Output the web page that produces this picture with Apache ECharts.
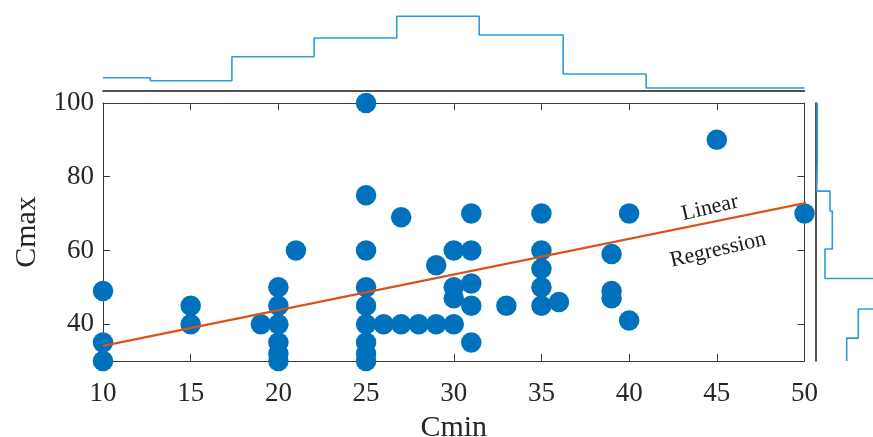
<!DOCTYPE html>
<html>
<head>
<meta charset="utf-8">
<script src="https://cdn.jsdelivr.net/npm/echarts@6/dist/echarts.min.js"></script>
<style>html,body{margin:0;padding:0;background:#fff}#c{width:873px;height:437px}</style>
</head>
<body>
<div id="c"></div>
<script>
// ---- data ----
const cmin = [10,10,10,15,15,19,20,20,20,20,20,20,21,25,25,25,25,25,25,25,25,25,26,27,27,28,29,29,30,30,30,30,31,31,31,31,31,33,35,35,35,35,35,36,39,39,39,40,40,45,50];
const cmax = [49,35,30,45,40,40,50,45,40,35,32,30,60,100,75,60,50,45,40,35,32,30,40,69,40,40,56,40,60,50,47,40,70,60,51,45,35,45,70,60,55,50,45,46,59,49,47,70,41,90,70];
const xTicks = [10,15,20,25,30,35,40,45,50];
const yTicks = [40,60,80,100];
const regressionLine = [[10,34.1],[51.4,74.2]];
// top marginal histogram (Cmin bins)
const topEdges = [10,12.7,17.35,22.04,26.75,31.45,36.24,40.97,50];
const topHeights = [13.0,10.0,34.0,52.7,74.4,55.7,16.7,2.7];
// right marginal histogram (Cmax bins)
const rightEdges = [100,84.2,76.1,70.7,60.4,52.4,44.1,36.2,30];
const rightWidths = [1.3,0.7,14,16.3,9,70,42.3,30.7];

// ---- build ----
const scatterData = cmin.map((x,i)=>[x,cmax[i]]);
const topStairs = [];
topHeights.forEach((h,i)=>{topStairs.push([topEdges[i],h]);topStairs.push([topEdges[i+1],h]);});
const rightStairs = [];
rightWidths.forEach((w,i)=>{rightStairs.push([w,rightEdges[i]]);rightStairs.push([w,rightEdges[i+1]]);});

const FONT = 'Liberation Serif';
const TXT = '#262626';
const AX = '#3a3a3a';
const chart = echarts.init(document.getElementById('c'));
chart.setOption({
  animation:false,
  backgroundColor:'#fff',
  grid:[
    {left:103,right:68.5,top:103,height:258,outerBoundsMode:'none',containLabel:false},
    {left:103,right:68.5,top:0.7,height:90,outerBoundsMode:'none',containLabel:false},
    {left:816,width:57,top:103,height:258,outerBoundsMode:'none',containLabel:false}
  ],
  xAxis:[
    {gridIndex:0,type:'value',min:10,max:50,interval:5,position:'bottom',
     axisLine:{lineStyle:{color:AX,width:1}},
     axisTick:{inside:true,length:7,lineStyle:{color:AX}},
     axisLabel:{fontFamily:FONT,fontSize:27,color:TXT,margin:19,customValues:xTicks},
     splitLine:{show:false},
     name:'Cmin',nameLocation:'middle',nameGap:52,
     nameTextStyle:{fontFamily:FONT,fontSize:30,color:TXT}},
    {gridIndex:0,type:'value',min:10,max:50,interval:5,position:'top',
     axisLine:{lineStyle:{color:AX,width:1}},
     axisTick:{inside:true,length:7,lineStyle:{color:AX}},
     axisLabel:{show:false},splitLine:{show:false}},
    {gridIndex:1,type:'value',min:10,max:50,position:'bottom',
     axisLine:{lineStyle:{color:'#1a1a1a',width:1.5}},
     axisTick:{show:false},axisLabel:{show:false},splitLine:{show:false}},
    {gridIndex:2,type:'value',min:0,max:57,show:false}
  ],
  yAxis:[
    {gridIndex:0,type:'value',min:30,max:100,position:'left',
     axisLine:{show:true,lineStyle:{color:AX,width:1}},
     axisTick:{show:true,inside:true,length:7,lineStyle:{color:AX},customValues:yTicks},
     axisLabel:{fontFamily:FONT,fontSize:27,color:TXT,margin:9,customValues:yTicks},
     splitLine:{show:false},
     name:'Cmax',nameLocation:'middle',nameGap:58,
     nameTextStyle:{fontFamily:FONT,fontSize:30,color:TXT}},
    {gridIndex:0,type:'value',min:30,max:100,position:'right',
     axisLine:{show:true,lineStyle:{color:AX,width:1}},
     axisTick:{show:true,inside:true,length:7,lineStyle:{color:AX},customValues:yTicks},
     axisLabel:{show:false},splitLine:{show:false}},
    {gridIndex:1,type:'value',min:0,max:90,show:false},
    {gridIndex:2,type:'value',min:30,max:100,position:'left',
     axisLine:{show:true,lineStyle:{color:'#1a1a1a',width:1.5}},
     axisTick:{show:false},axisLabel:{show:false},splitLine:{show:false}}
  ],
  series:[
    {type:'scatter',xAxisIndex:0,yAxisIndex:0,data:scatterData,symbolSize:20.5,clip:false,
     itemStyle:{color:'#0072BD',opacity:1},z:3},
    {type:'line',xAxisIndex:0,yAxisIndex:0,data:regressionLine,showSymbol:false,clip:false,
     lineStyle:{color:'#D95319',width:2.2},z:4},
    {type:'line',xAxisIndex:2,yAxisIndex:2,data:topStairs,showSymbol:false,clip:false,
     lineStyle:{color:'#2E9BD8',width:1.6}},
    {type:'line',xAxisIndex:3,yAxisIndex:3,data:rightStairs,showSymbol:false,clip:false,
     lineStyle:{color:'#2E9BD8',width:1.6}}
  ],
  graphic:[
    {type:'text',x:710,y:208,rotation:0.23,style:{text:'Linear',font:'22px "Liberation Serif"',fill:'#1a1a1a',align:'center',verticalAlign:'middle'}},
    {type:'text',x:718,y:250,rotation:0.23,style:{text:'Regression',font:'22px "Liberation Serif"',fill:'#1a1a1a',align:'center',verticalAlign:'middle'}}
  ]
});
</script>
</body>
</html>
